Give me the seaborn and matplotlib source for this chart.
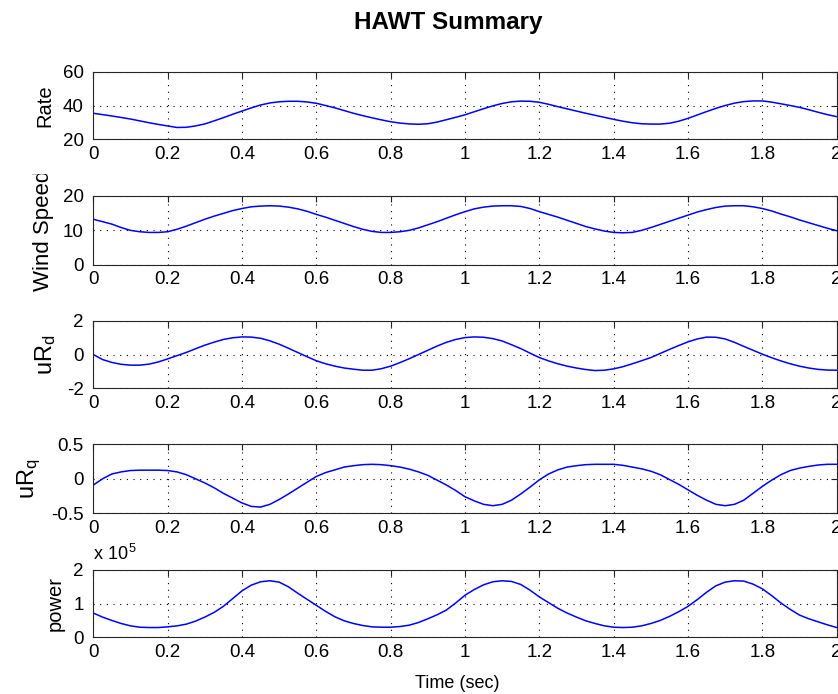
import numpy as np
import pandas as pd
import matplotlib
matplotlib.use("Agg")
import matplotlib.pyplot as plt
import seaborn as sns
from matplotlib.ticker import FixedLocator, FuncFormatter
from matplotlib.transforms import Bbox, TransformedBbox

# Sample times (s)
time_s = np.linspace(0.0, 2.0, 81)

# Rotor rate
rate = [35.4, 34.6, 33.8, 32.9, 32.0, 30.9, 29.8, 28.8, 27.9, 27.0,
        27.1, 27.9, 29.1, 30.9, 32.8, 34.8, 36.7, 38.6, 40.3, 41.5,
        42.2, 42.5, 42.5, 42.1, 41.3, 40.0, 38.6, 37.0, 35.4, 34.0,
        32.7, 31.5, 30.4, 29.6, 29.1, 28.9, 29.2, 30.2, 31.6, 33.0,
        34.5, 36.3, 38.1, 39.8, 41.2, 42.2, 42.6, 42.5, 41.9, 40.7,
        39.3, 38.0, 36.7, 35.4, 34.2, 33.0, 31.8, 30.7, 29.8, 29.2,
        29.0, 29.0, 29.5, 30.7, 32.4, 34.4, 36.4, 38.3, 40.0, 41.4,
        42.3, 42.7, 42.7, 42.0, 41.0, 40.0, 38.9, 37.5, 36.0, 34.6,
        33.4]

# Wind speed
wind_speed = [13.2, 12.5, 11.8, 10.8, 10.0, 9.6, 9.4, 9.4, 9.6, 10.3,
              11.2, 12.2, 13.2, 14.1, 14.9, 15.7, 16.3, 16.8, 17.0, 17.1,
              17.0, 16.7, 16.2, 15.5, 14.6, 13.8, 12.9, 12.0, 11.1, 10.3,
              9.7, 9.4, 9.4, 9.6, 10.0, 10.7, 11.6, 12.5, 13.5, 14.5,
              15.4, 16.2, 16.7, 17.0, 17.1, 17.1, 16.9, 16.3, 15.4, 14.6,
              13.8, 12.9, 12.0, 11.1, 10.4, 9.8, 9.4, 9.3, 9.4, 10.0,
              10.8, 11.7, 12.6, 13.5, 14.4, 15.3, 16.0, 16.6, 17.0, 17.1,
              17.1, 16.8, 16.3, 15.6, 14.7, 13.9, 13.0, 12.2, 11.4, 10.6,
              9.9]

# Rotor voltage, d axis
ur_d = [0.00, -0.30, -0.47, -0.58, -0.63, -0.63, -0.57, -0.44, -0.26, -0.07,
        0.12, 0.34, 0.55, 0.73, 0.89, 0.99, 1.04, 1.03, 0.96, 0.81,
        0.61, 0.37, 0.12, -0.13, -0.37, -0.55, -0.69, -0.80, -0.87, -0.93,
        -0.93, -0.84, -0.69, -0.48, -0.25, 0.00, 0.25, 0.50, 0.72, 0.89,
        1.00, 1.04, 1.02, 0.94, 0.80, 0.58, 0.35, 0.08, -0.18, -0.38,
        -0.55, -0.69, -0.80, -0.89, -0.95, -0.93, -0.85, -0.72, -0.55, -0.37,
        -0.18, 0.06, 0.30, 0.53, 0.75, 0.92, 1.03, 1.02, 0.92, 0.72,
        0.48, 0.25, 0.02, -0.19, -0.38, -0.55, -0.69, -0.80, -0.88, -0.92,
        -0.93]

# Rotor voltage, q axis
ur_q = [-0.09, 0.00, 0.07, 0.10, 0.12, 0.125, 0.125, 0.125, 0.12, 0.10,
        0.06, 0.00, -0.06, -0.13, -0.21, -0.28, -0.35, -0.40, -0.41, -0.37,
        -0.30, -0.22, -0.135, -0.05, 0.034, 0.09, 0.13, 0.17, 0.19, 0.205,
        0.21, 0.205, 0.19, 0.17, 0.14, 0.10, 0.05, -0.02, -0.09, -0.17,
        -0.26, -0.32, -0.37, -0.39, -0.37, -0.31, -0.22, -0.12, -0.015, 0.07,
        0.13, 0.17, 0.19, 0.205, 0.21, 0.21, 0.21, 0.195, 0.17, 0.145,
        0.11, 0.06, -0.01, -0.08, -0.16, -0.24, -0.31, -0.37, -0.39, -0.37,
        -0.31, -0.21, -0.11, -0.02, 0.06, 0.12, 0.155, 0.18, 0.20, 0.21,
        0.21]

# Power in units of 1e5
power_1e5 = [0.72, 0.60, 0.50, 0.41, 0.34, 0.30, 0.29, 0.29, 0.31, 0.34,
             0.39, 0.48, 0.60, 0.74, 0.92, 1.15, 1.38, 1.55, 1.65, 1.68,
             1.64, 1.50, 1.31, 1.13, 0.95, 0.77, 0.61, 0.49, 0.41, 0.35,
             0.31, 0.30, 0.30, 0.32, 0.36, 0.44, 0.55, 0.67, 0.81, 1.02,
             1.25, 1.42, 1.56, 1.65, 1.68, 1.66, 1.57, 1.40, 1.20, 1.03,
             0.86, 0.72, 0.60, 0.49, 0.41, 0.34, 0.30, 0.29, 0.30, 0.34,
             0.41, 0.50, 0.62, 0.76, 0.92, 1.12, 1.34, 1.53, 1.64, 1.68,
             1.67, 1.58, 1.44, 1.24, 1.02, 0.83, 0.66, 0.55, 0.46, 0.37,
             0.29]

x_ticks = [0, 0.2, 0.4, 0.6, 0.8, 1.0, 1.2, 1.4, 1.6, 1.8, 2.0]
panel_labels = ["Rate", "Wind Speed", r"$\mathregular{uR_d}$",
                r"$\mathregular{uR_q}$", "power"]
label_sizes = [14.5, 16, 17, 17, 14.5]
panel_yticks = [[20, 40, 60], [0, 10, 20], [-2, 0, 2],
                [-0.5, 0, 0.5], [0, 1, 2]]

df = pd.DataFrame({"time": time_s, "rate": rate, "wind": wind_speed,
                   "urd": ur_d, "urq": ur_q, "power": power_1e5})
columns = ["rate", "wind", "urd", "urq", "power"]

sns.set_theme(style="white", rc={"text.color": "black",
                                 "axes.labelcolor": "black",
                                 "xtick.color": "black",
                                 "ytick.color": "black"})
plt.rcParams["font.family"] = ["Liberation Sans", "DejaVu Sans"]
plt.rcParams["mathtext.fontset"] = "custom"
plt.rcParams["mathtext.rm"] = "Liberation Sans"

W, H = 838, 694
fig = plt.figure(figsize=(W / 100, H / 100), dpi=100)
fig.patch.set_facecolor("white")

left_px, right_px = 93.3, 836.7
tops = [71.7, 195.7, 320.7, 444.3, 570.0]
bottoms = [139.3, 265.0, 388.3, 513.3, 637.3]

axes = []
for i, col in enumerate(columns):
    ax = fig.add_axes([left_px / W, 1 - bottoms[i] / H,
                       (right_px - left_px) / W, (bottoms[i] - tops[i]) / H])
    sns.lineplot(data=df, x="time", y=col, ax=ax, color="#0000ff",
                 linewidth=1.1)
    ax.set_xlim(0, 2)
    yt = panel_yticks[i]
    ax.set_ylim(yt[0], yt[-1])
    ax.xaxis.set_major_locator(FixedLocator(x_ticks))
    ax.yaxis.set_major_locator(FixedLocator(yt))
    ax.xaxis.set_major_formatter(FuncFormatter(lambda v, p: f"{v:g}"))
    ax.yaxis.set_major_formatter(FuncFormatter(lambda v, p: f"{v:g}"))
    ax.grid(True, color="black", linestyle=(0, (1, 5)), linewidth=0.8)
    ax.tick_params(direction="in", length=4.5, width=0.8, colors="#222222",
                   labelcolor="black", labelsize=13.5, top=True, right=True)
    ax.tick_params(axis="x", pad=4.5)
    ax.tick_params(axis="y", pad=7)
    for s in ax.spines.values():
        s.set_visible(True)
        s.set_color("#262626")
        s.set_linewidth(0.8)
    ax.set_xlabel("")
    ax.set_ylabel(panel_labels[i], fontsize=label_sizes[i], labelpad=6)
    axes.append(ax)

# The wind-speed label runs up into the panel above and is cut there
lab = axes[1].yaxis.label
lab.set_clip_on(True)
lab.set_clip_box(TransformedBbox(Bbox.from_extents(0, 0, 1, 1 - 173.5 / H),
                                 fig.transFigure))

# Exponent note above the power panel
axes[4].text(0.0, 1.0 + (570.0 - 560.0) / (637.3 - 570.0),
             r"$\mathregular{x\ 10^{5}}$", transform=axes[4].transAxes,
             ha="left", va="baseline", fontsize=13)

axes[4].set_xlabel("Time (sec)", fontsize=13)
axes[4].xaxis.set_label_coords((457 - left_px) / (right_px - left_px),
                               -(675.5 - 637.3) / (637.3 - 570.0))

fig.text(448 / W, 1 - 29 / H, "HAWT Summary", ha="center", va="baseline",
         fontsize=17.5, fontweight="bold", color="black")

fig.savefig("out.png", dpi=100)
